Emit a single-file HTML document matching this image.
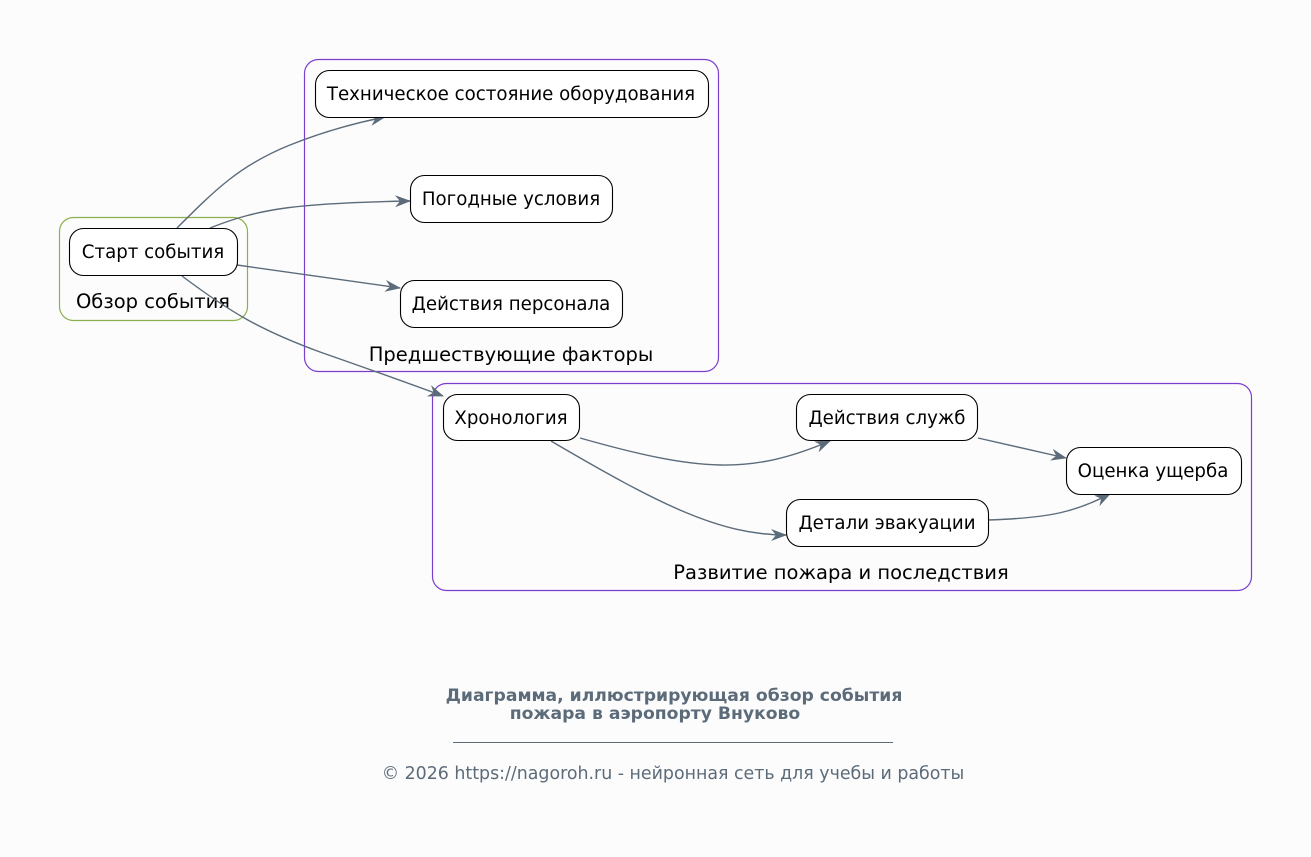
<!DOCTYPE html>
<html><head><meta charset="utf-8"><style>
html,body{margin:0;padding:0;background:#fcfcfc;}
svg{display:block;font-family:"DejaVu Sans","Liberation Sans",sans-serif;}
</style></head><body>
<svg width="1311" height="857" viewBox="0 0 1311 857" xmlns="http://www.w3.org/2000/svg">
<defs><marker id="a" viewBox="0 0 16 12" refX="15" refY="6" markerWidth="16" markerHeight="12" markerUnits="userSpaceOnUse" orient="auto"><path d="M0,0 L16,6 L0,12 L5,6 z" fill="#5c6b7a"/></marker></defs>
<rect x="59.5" y="217.5" width="188" height="103" rx="14" fill="none" stroke="#8db04e" stroke-width="1.2"/>
<rect x="304.5" y="59.5" width="414" height="312" rx="14" fill="none" stroke="#7b3fcf" stroke-width="1.2"/>
<rect x="432.5" y="383.5" width="819" height="207" rx="14" fill="none" stroke="#7b3fcf" stroke-width="1.2"/>
<g font-size="19.5" fill="#000" text-anchor="middle">
<text x="153" y="308">Обзор события</text>
<text x="511" y="361">Предшествующие факторы</text>
<text x="841" y="579">Развитие пожара и последствия</text>
</g>
<g fill="none" stroke="#5c6b7a" stroke-width="1.4" marker-end="url(#a)">
<path d="M177,228 C215,190 240,165 290,145 C320,133 350,124 385,117"/>
<path d="M210,228 C260,208 300,203 410,201"/>
<path d="M237,265 L400,288"/>
<path d="M182,276 C230,312 260,330 320,352 C360,366 400,380 443,396"/>
<path d="M580,438 C700,472 750,475 830,441"/>
<path d="M551,441 C660,505 720,535 786,535"/>
<path d="M978,438 L1066,458"/>
<path d="M988,520 C1050,518 1075,512 1110,494"/>
</g>
<g fill="#fff" stroke="#000" stroke-width="1.1">
<rect x="69.5" y="228.5" width="168" height="47" rx="14"/>
<rect x="315.5" y="70.5" width="393" height="47" rx="14"/>
<rect x="410.5" y="175.5" width="202" height="47" rx="14"/>
<rect x="400.5" y="280.5" width="222" height="47" rx="14"/>
<rect x="443.5" y="394.5" width="136" height="46" rx="14"/>
<rect x="796.5" y="394.5" width="181" height="46" rx="14"/>
<rect x="786.5" y="499.5" width="202" height="47" rx="14"/>
<rect x="1066.5" y="447.5" width="175" height="47" rx="14"/>
</g>
<g font-size="18.2" fill="#000" text-anchor="middle">
<text x="153" y="258">Старт события</text>
<text x="511" y="100">Техническое состояние оборудования</text>
<text x="511" y="205">Погодные условия</text>
<text x="511" y="310">Действия персонала</text>
<text x="511" y="424">Хронология</text>
<text x="887" y="424">Действия служб</text>
<text x="887" y="529">Детали эвакуации</text>
<text x="1153" y="477">Оценка ущерба</text>
</g>
<g fill="#5c6b7a" text-anchor="middle">
<text x="674" y="701" font-size="17.2" font-weight="bold">Диаграмма, иллюстрирующая обзор события</text>
<text x="655" y="719" font-size="17.2" font-weight="bold">пожара в аэропорту Внуково</text>
<line x1="453" y1="742.5" x2="893" y2="742.5" stroke="#5c6b7a" stroke-width="1"/>
<text x="673" y="779" font-size="17.4">© 2026 https://nagoroh.ru - нейронная сеть для учебы и работы</text>
</g>
</svg>
</body></html>
